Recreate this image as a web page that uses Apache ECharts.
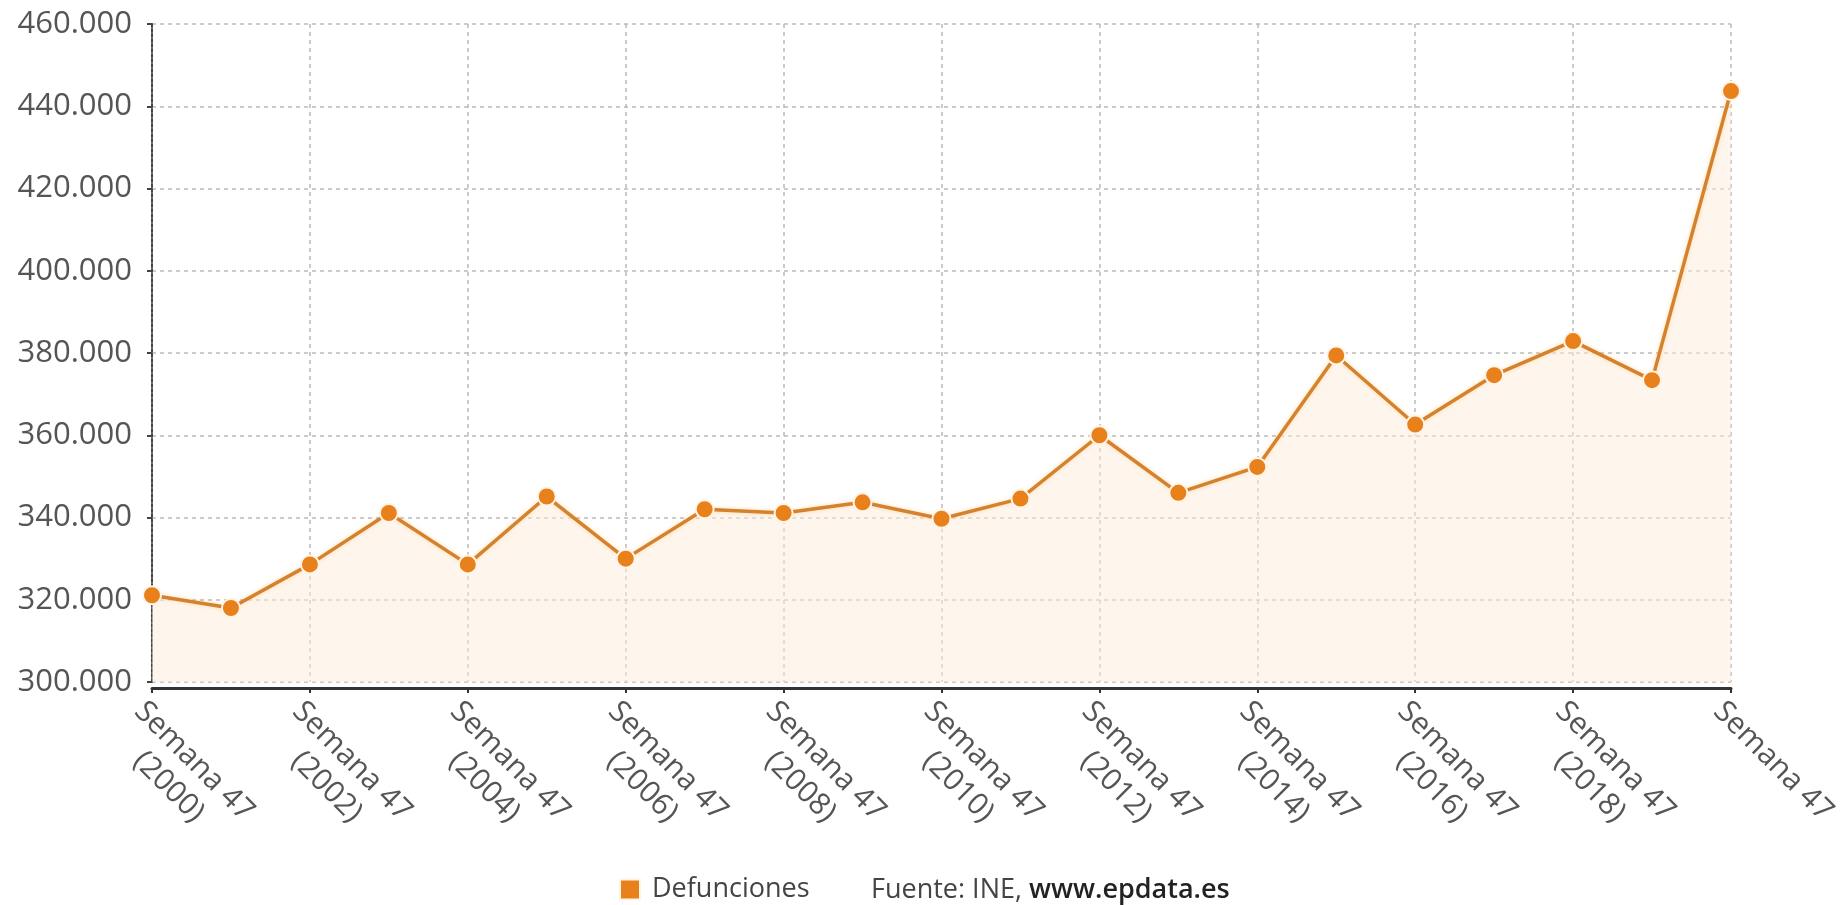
<!DOCTYPE html>
<html><head><meta charset="utf-8">
<script src="https://cdn.jsdelivr.net/npm/echarts@6/dist/echarts.min.js"></script>
<style>html,body{margin:0;padding:0;background:#fff}#c{width:1843px;height:905px}</style>
</head><body><div id="c"></div>
<script>
const categories = ["Semana 47\n(2000)","Semana 47\n(2001)","Semana 47\n(2002)","Semana 47\n(2003)","Semana 47\n(2004)","Semana 47\n(2005)","Semana 47\n(2006)","Semana 47\n(2007)","Semana 47\n(2008)","Semana 47\n(2009)","Semana 47\n(2010)","Semana 47\n(2011)","Semana 47\n(2012)","Semana 47\n(2013)","Semana 47\n(2014)","Semana 47\n(2015)","Semana 47\n(2016)","Semana 47\n(2017)","Semana 47\n(2018)","Semana 47\n(2019)","Semana 47"];
const defunciones = [321100,318000,328600,341100,328600,345100,330000,342000,341100,343700,339700,344600,360000,346000,352300,379400,362600,374600,382900,373400,443700];
const yTicks = {min:300000, max:460000, interval:20000};
const seriesName = "Defunciones";
const sourceText = "Fuente: INE, ";
const sourceSite = "www.epdata.es";

const chart = echarts.init(document.getElementById('c'));
const fmt = v => String(v).replace(/\B(?=(\d{3})+(?!\d))/g, '.');
chart.setOption({
  animation:false,
  textStyle:{fontFamily:'Open Sans'},
  grid:{left:152,right:112,top:24,bottom:223},
  legend:{
    data:[seriesName], left:614, top:871, icon:'rect', itemWidth:20, itemHeight:20, itemGap:8,
    textStyle:{fontSize:27,color:'#444',fontFamily:'Open Sans',padding:[0,0,0,7]}
  },
  graphic:[{
    type:'text', left:871, top:877,
    style:{
      text:'{a|'+sourceText+'}{b|'+sourceSite+'}',
      rich:{a:{fontSize:27,fill:'#444',fontFamily:'Open Sans'},b:{fontSize:27,fill:'#222',fontWeight:600,fontFamily:'Open Sans'}}
    }
  }],
  xAxis:{
    type:'category', data:categories, boundaryGap:false, offset:6,
    axisLine:{lineStyle:{color:'#333',width:3}},
    axisTick:{show:true,interval:1,length:5,lineStyle:{color:'#333',width:2}},
    axisLabel:{
      interval:1, rotate:-45, margin:6, verticalAlign:'top',
      formatter: v => v.split('\n').map(s => '{c|'+s+'}').join('\n'),
      rich:{c:{fontSize:30,color:'#555',align:'center',lineHeight:36,fontFamily:'Open Sans'}}
    },
    splitLine:{show:true,interval:1,lineStyle:{color:'#bbb',type:[4,4],width:1.5}}
  },
  yAxis:{
    type:'value', min:yTicks.min, max:yTicks.max, interval:yTicks.interval,
    axisLine:{show:true,lineStyle:{color:'#444',width:2,type:[3,2]}},
    axisTick:{show:true,length:5,lineStyle:{color:'#444',width:2}},
    axisLabel:{fontSize:31,color:'#555',margin:20,formatter:fmt,fontFamily:'Open Sans'},
    splitLine:{show:true,lineStyle:{color:'#bbb',type:[4,4],width:1.5}}
  },
  series:[{
    name:seriesName, type:'line', data:defunciones,
    symbol:'circle', symbolSize:18,
    itemStyle:{color:'#e8801c',borderColor:'#fff4e6',borderWidth:2},
    lineStyle:{color:'#d4822e',width:3.5,shadowColor:'rgba(255,200,120,0.6)',shadowBlur:4},
    areaStyle:{color:'rgba(253,236,220,0.75)'}
  }]
});
</script></body></html>
